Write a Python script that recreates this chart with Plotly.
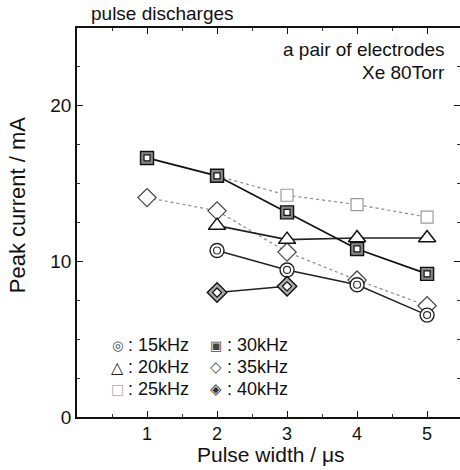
import plotly.graph_objects as go

# ---------------- data ----------------
x_15 = [2, 3, 4, 5]
y_15 = [10.7, 9.45, 8.5, 6.55]
x_20 = [2, 3, 4, 5]
y_20 = [12.3, 11.4, 11.5, 11.5]
x_25 = [2, 3, 4, 5]
y_25 = [15.5, 14.25, 13.65, 12.85]
x_30 = [1, 2, 3, 4, 5]
y_30 = [16.65, 15.5, 13.15, 10.8, 9.2]
x_35 = [1, 2, 3, 4, 5]
y_35 = [14.1, 13.25, 10.6, 8.8, 7.15]
x_40 = [2, 3]
y_40 = [8.0, 8.4]

x_ticks = [1, 2, 3, 4, 5]
y_ticks = [0, 10, 20]

FONT = "Liberation Sans, Arial, sans-serif"
W, H = 460, 470
# plot area in window pixels: left 77, right 460, top 28, bottom 416.7
L, R, T = 77, 0, 28
B = H - 416.7
PW, PH = W - L - R, H - T - B


def px(x):
    return (x - L) / PW


def py(y):
    return (H - B - y) / PH


fig = go.Figure()

# 25 kHz (dotted grey)
fig.add_trace(go.Scatter(x=x_25, y=y_25, mode="lines+markers",
                         line=dict(color="#8a8a8a", width=1.2, dash="dot"),
                         marker=dict(symbol="square", size=12, color="white",
                                     line=dict(color="#9a9a9a", width=1.2))))
# 35 kHz (dotted grey)
fig.add_trace(go.Scatter(x=x_35, y=y_35, mode="lines+markers",
                         line=dict(color="#8a8a8a", width=1.2, dash="dot"),
                         marker=dict(symbol="diamond", size=14, color="white",
                                     line=dict(color="#444", width=1.2))))
# 20 kHz
fig.add_trace(go.Scatter(x=x_20, y=y_20, mode="lines+markers",
                         line=dict(color="#222", width=1.6),
                         marker=dict(symbol="triangle-up", size=15, color="white",
                                     line=dict(color="#111", width=1.5))))
# 15 kHz (double circle)
fig.add_trace(go.Scatter(x=x_15, y=y_15, mode="lines+markers",
                         line=dict(color="#222", width=1.4),
                         marker=dict(symbol="circle", size=14, color="white",
                                     line=dict(color="#222", width=1.4))))
fig.add_trace(go.Scatter(x=x_15, y=y_15, mode="markers",
                         marker=dict(symbol="circle", size=7, color="white",
                                     line=dict(color="#333", width=1.2))))
# 40 kHz (double diamond)
fig.add_trace(go.Scatter(x=x_40, y=y_40, mode="lines+markers",
                         line=dict(color="#222", width=1.6),
                         marker=dict(symbol="diamond", size=15, color="#aaaaaa",
                                     line=dict(color="#111", width=1.4))))
fig.add_trace(go.Scatter(x=x_40, y=y_40, mode="markers",
                         marker=dict(symbol="diamond", size=7, color="white",
                                     line=dict(color="#111", width=1.2))))
# 30 kHz (double square)
fig.add_trace(go.Scatter(x=x_30, y=y_30, mode="lines+markers",
                         line=dict(color="#111", width=1.7),
                         marker=dict(symbol="square", size=13, color="#888888",
                                     line=dict(color="#111", width=1.4))))
fig.add_trace(go.Scatter(x=x_30, y=y_30, mode="markers",
                         marker=dict(symbol="square", size=6, color="white",
                                     line=dict(color="#111", width=1.2))))

ann = []


def text(x, y, s, anchor="left", size=18, color="#111", family=FONT, angle=0):
    ann.append(dict(x=px(x), y=py(y), xref="paper", yref="paper", text=s,
                    showarrow=False, xanchor=anchor, yanchor="middle",
                    textangle=angle, borderpad=0,
                    font=dict(family=family, size=size, color=color)))


text(90, 14, "pulse discharges", size=19)
text(446, 49, "a pair of electrodes", anchor="right", size=19)
text(446, 72, "Xe 80Torr", anchor="right", size=19)

# axis titles
text(271, 454, "Pulse width / μs", anchor="center", size=21)
text(17, 205, "Peak current / mA", anchor="center", size=22, angle=-90)

# legend (text)
SYM = "DejaVu Sans"
text(117, 345, "◎", anchor="center", size=13, color="#444", family=SYM)
text(117, 367, "△", anchor="center", size=16, color="#222", family=SYM)
text(117, 389, "□", anchor="center", size=14, color="#aaa", family=SYM)
text(216, 345, "▣", anchor="center", size=13, color="#444", family=SYM)
text(216, 367, "◇", anchor="center", size=15, color="#555", family=SYM)
text(216, 389, "◈", anchor="center", size=15, color="#333", family=SYM)
text(127, 345, ": 15kHz", size=18)
text(127, 367, ": 20kHz", size=18)
text(127, 389, ": 25kHz", size=18)
text(226, 345, ": 30kHz", size=18)
text(226, 367, ": 35kHz", size=18)
text(226, 389, ": 40kHz", size=18)

fig.update_layout(
    width=W, height=H,
    margin=dict(l=L, r=R, t=T, b=B, pad=0, autoexpand=False),
    paper_bgcolor="white", plot_bgcolor="white",
    showlegend=False,
    font=dict(family=FONT, size=18, color="#111"),
    annotations=ann,
)
fig.update_xaxes(range=[0, 5.47], tickvals=x_ticks, ticks="inside", ticklen=6,
                 tickwidth=1.2, tickcolor="#111", showline=True, linecolor="#111",
                 linewidth=1.5, mirror="ticks", showgrid=False, zeroline=False,
                 tickfont=dict(size=18), automargin=False,
                 minor=dict(dtick=0.5, tick0=0, ticks="inside", ticklen=3,
                            tickcolor="#333", showgrid=False))
fig.update_yaxes(range=[0, 25], tickvals=y_ticks, ticks="inside", ticklen=6,
                 tickwidth=1.2, tickcolor="#111", showline=True, linecolor="#111",
                 linewidth=1.5, mirror="ticks", showgrid=False, zeroline=False,
                 tickfont=dict(size=19), automargin=False,
                 minor=dict(dtick=2.5, tick0=0, ticks="inside", ticklen=3,
                            tickcolor="#333", showgrid=False))

fig.write_html(
    "out.html",
    config={"displayModeBar": False},
    post_script="document.body.style.margin='0';document.body.style.overflow='hidden';",
)
